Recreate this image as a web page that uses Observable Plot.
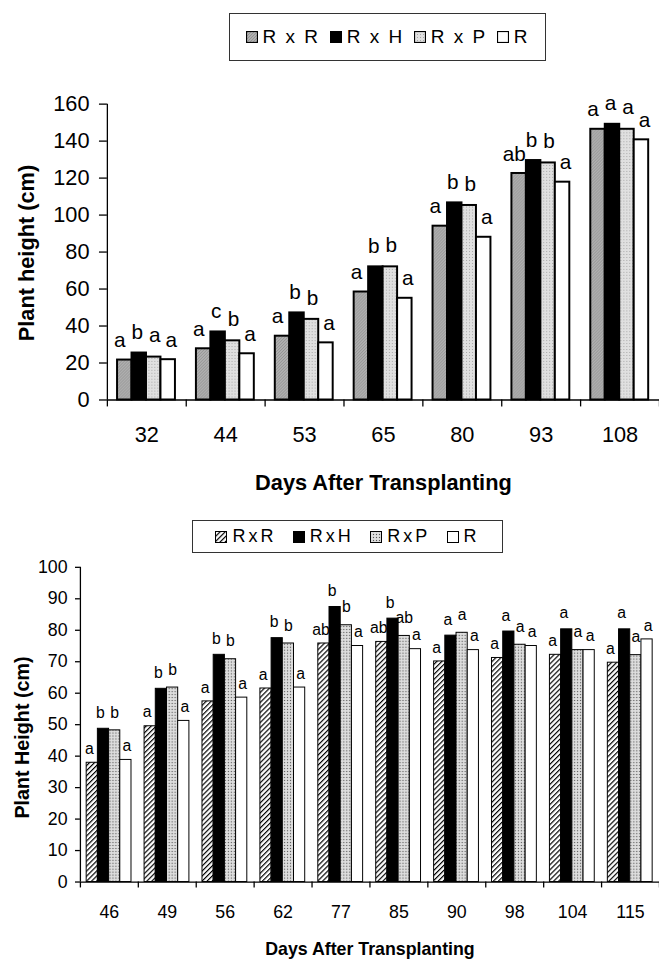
<!DOCTYPE html>
<html><head><meta charset="utf-8">
<script src="https://cdn.jsdelivr.net/npm/d3@7"></script>
<script src="https://cdn.jsdelivr.net/npm/@observablehq/plot@0.6"></script>
<style>
html,body{margin:0;padding:0;background:#fff;overflow:hidden;width:659px;height:960px;}
#wrap{position:relative;width:659px;height:960px;overflow:hidden;font-family:"Liberation Sans",Arial,sans-serif;color:#000;}
.legend{position:absolute;border:1px solid #333;box-sizing:border-box;display:flex;align-items:center;justify-content:space-evenly;background:#fff;padding:0 6px;}
.legend .item{display:flex;align-items:center;white-space:nowrap;}
.legend svg{display:block;margin-right:5px;}
.chart{position:absolute;left:0;}
</style></head><body>
<svg width="0" height="0" style="position:absolute">
<defs>
<pattern id="tRxR" width="3" height="3" patternUnits="userSpaceOnUse"><rect width="3" height="3" fill="#b0b0b0"/><path d="M0,3L3,0" stroke="#8c8c8c" stroke-width="0.8"/></pattern>
<pattern id="tRxP" width="3" height="3" patternUnits="userSpaceOnUse"><rect width="3" height="3" fill="#e0e0e0"/><rect width="1" height="1" fill="#a6a6a6"/></pattern>
<pattern id="bRxR" width="3.6" height="6" patternUnits="userSpaceOnUse" patternTransform="rotate(45)"><rect width="3.6" height="6" fill="#fff"/><rect width="1.2" height="6" fill="#000"/></pattern>
<pattern id="bRxP" width="3" height="3" patternUnits="userSpaceOnUse"><rect width="3" height="3" fill="#d4d4d4"/><rect x="0" y="0" width="1" height="1" fill="#555"/><rect x="1.5" y="1.5" width="1" height="1" fill="#fff"/></pattern>
</defs>
</svg>
<div id="wrap"></div>
<script>
// ---------- data ----------
const series = ["R x R", "R x H", "R x P", "R"];
const seriesShort = ["RxR", "RxH", "RxP", "R"];

// Chart 1
const topDays = ["32", "44", "53", "65", "80", "93", "108"];
const topRxR = [21.6, 27.7, 34.5, 58.4, 94.0, 122.5, 146.4];
const topRxH = [25.4, 36.8, 47.1, 72.0, 106.6, 129.5, 149.1];
const topRxP = [23.2, 32.0, 43.6, 72.0, 105.2, 128.2, 146.4];
const topR   = [21.8, 25.0, 30.9, 55.0, 88.0, 117.8, 140.7];
const topLetRxR = ["a", "a", "a", "a", "a", "ab", "a"];
const topLetRxH = ["b", "c", "b", "b", "b", "b", "a"];
const topLetRxP = ["a", "b", "b", "b", "b", "b", "a"];
const topLetR   = ["a", "a", "a", "a", "a", "a", "a"];
const topYTicks = [0, 20, 40, 60, 80, 100, 120, 140, 160];

// Chart 2
const botDays = ["46", "49", "56", "62", "77", "85", "90", "98", "104", "115"];
const botRxR = [37.9, 49.5, 57.4, 61.5, 75.8, 76.3, 70.1, 71.2, 72.2, 69.7];
const botRxH = [48.7, 61.4, 72.2, 77.5, 87.4, 83.7, 78.3, 79.6, 80.3, 80.3];
const botRxP = [48.2, 61.8, 70.8, 75.8, 81.6, 78.2, 79.2, 75.4, 73.7, 72.1];
const botR   = [38.8, 51.2, 58.6, 61.8, 75.0, 74.0, 73.7, 75.0, 73.7, 77.1];
const botLetRxR = ["a", "a", "a", "a", "ab", "ab", "a", "a", "a", "a"];
const botLetRxH = ["b", "b", "b", "b", "b", "b", "a", "a", "a", "a"];
const botLetRxP = ["b", "b", "b", "b", "b", "ab", "a", "a", "a", "a"];
const botLetR   = ["a", "a", "a", "a", "a", "a", "a", "a", "a", "a"];
const botYTicks = [0, 10, 20, 30, 40, 50, 60, 70, 80, 90, 100];

const xTitle = "Days After Transplanting";
const yTitleTop = "Plant height (cm)";
const yTitleBot = "Plant Height (cm)";

// ---------- drawing ----------
const FONT = "Liberation Sans, Arial, sans-serif";

function chart(cfg) {
  const n = cfg.days.length;
  const data = [];
  cfg.days.forEach((day, i) => series.forEach((s, k) =>
    data.push({i, k, day, series: s, value: cfg.values[k][i], letter: cfg.letters[k][i]})));
  const {pad, bw} = cfg;
  const x1 = d => d.i + pad + d.k * bw;
  const x2 = d => d.i + pad + (d.k + 1) * bw;
  const xc = d => d.i + pad + (d.k + 0.5) * bw;
  return Plot.plot({
    width: cfg.width, height: cfg.height,
    marginLeft: cfg.ml, marginRight: 0, marginTop: cfg.mt, marginBottom: cfg.mb,
    style: {fontFamily: FONT, background: "transparent", overflow: "visible", color: "#000"},
    x: {domain: [0, n]},
    y: {domain: [cfg.yTicks[0], cfg.yTicks[cfg.yTicks.length - 1]]},
    marks: [
      ...series.map((s, k) => Plot.rectY(data.filter(d => d.k === k), {
        x1, x2, y1: 0, y2: "value", fill: cfg.fills[k], stroke: "#000", strokeWidth: cfg.sw
      })),
      Plot.ruleY([0], {stroke: "#000", strokeWidth: cfg.axisW}),
      Plot.ruleX([0], {stroke: "#000", strokeWidth: cfg.axisW}),
      Plot.axisY({ticks: cfg.yTicks, tickSize: cfg.yTickSize, tickPadding: cfg.yTickPad,
        fontSize: cfg.tickFont, label: null, strokeWidth: cfg.axisW}),
      Plot.axisX({ticks: d3.range(n + 1), tickSize: cfg.xTickSize, tickFormat: () => "",
        label: null, strokeWidth: cfg.axisW}),
      Plot.axisX({ticks: d3.range(n).map(i => i + 0.5), tickSize: 0, tickPadding: cfg.xLabPad,
        tickFormat: v => cfg.days[Math.round(v - 0.5)], fontSize: cfg.tickFont, label: null}),
      ...series.map((s, k) => Plot.text(data.filter(d => d.k === k), {
        x: xc, y: "value", text: "letter", lineAnchor: "bottom",
        dx: cfg.letDx[k], dy: -cfg.letGap[k], fontSize: cfg.letFont})),
      Plot.text([xTitle], {text: d => d, frameAnchor: "bottom", lineAnchor: "middle", textAnchor: "middle",
        dy: cfg.xTitleDy, fontWeight: "bold", fontSize: cfg.titleFont}),
      Plot.text([cfg.yTitle], {text: d => d, frameAnchor: "left", rotate: -90, lineAnchor: "middle", textAnchor: "middle",
        dx: cfg.yTitleDx, dy: cfg.yTitleDy, fontWeight: "bold", fontSize: cfg.yTitleFont})
    ]
  });
}

function legend(box, labels, fills, font, spacing, sw) {
  const div = document.createElement("div");
  div.className = "legend";
  Object.assign(div.style, {left: box[0] + "px", top: box[1] + "px", width: box[2] + "px", height: box[3] + "px"});
  labels.forEach((lab, k) => {
    const it = document.createElement("div");
    it.className = "item";
    it.innerHTML = `<svg width="12" height="12"><rect x="0.5" y="0.5" width="11" height="11" fill="${fills[k]}" stroke="#000" stroke-width="${sw}"/></svg><span style="font-size:${font}px;letter-spacing:${spacing}px">${lab}</span>`;
    div.appendChild(it);
  });
  return div;
}

const wrap = document.getElementById("wrap");

const topFills = ["url(#tRxR)", "#000", "url(#tRxP)", "#fff"];
const botFills = ["url(#bRxR)", "#000", "url(#bRxP)", "#fff"];

wrap.appendChild(legend([229, 13, 317, 48], series, topFills, 19, 2, 1.2));

const c1 = chart({
  days: topDays, values: [topRxR, topRxH, topRxP, topR],
  letters: [topLetRxR, topLetRxH, topLetRxP, topLetR],
  yTicks: topYTicks, fills: topFills,
  width: 666, height: 430, ml: 108, mt: 34, mb: 97,
  pad: 0.129, bw: 0.1835, sw: 2, axisW: 1.3,
  yTickSize: 8, yTickPad: 10, xTickSize: 7, xLabPad: 27,
  tickFont: 22, letFont: 21, letGap: [13, 14, 15, 13], letDx: [-5, -2, 1, 3],
  titleFont: 22, yTitleFont: 22,
  xTitleDy: 84, yTitleDx: -81, yTitleDy: 1, yTitle: yTitleTop
});
c1.classList.add("chart");
c1.style.top = "70px";
wrap.appendChild(c1);

wrap.appendChild(legend([192, 520, 311, 33], seriesShort, botFills, 18, 3, 1));

const c2 = chart({
  days: botDays, values: [botRxR, botRxH, botRxP, botR],
  letters: [botLetRxR, botLetRxH, botLetRxP, botLetR],
  yTicks: botYTicks, fills: botFills,
  width: 668, height: 405, ml: 81, mt: 12, mb: 74,
  pad: 0.108, bw: 0.1935, sw: 1, axisW: 1.3,
  yTickSize: 5, yTickPad: 8, xTickSize: 6, xLabPad: 24,
  tickFont: 18, letFont: 16, letGap: [9, 11, 13, 9], letDx: [-3, -3, 0, 1],
  titleFont: 18, yTitleFont: 20,
  xTitleDy: 68, yTitleDx: -59, yTitleDy: 13, yTitle: yTitleBot
});
c2.classList.add("chart");
c2.style.top = "555px";
wrap.appendChild(c2);
</script>
</body></html>
